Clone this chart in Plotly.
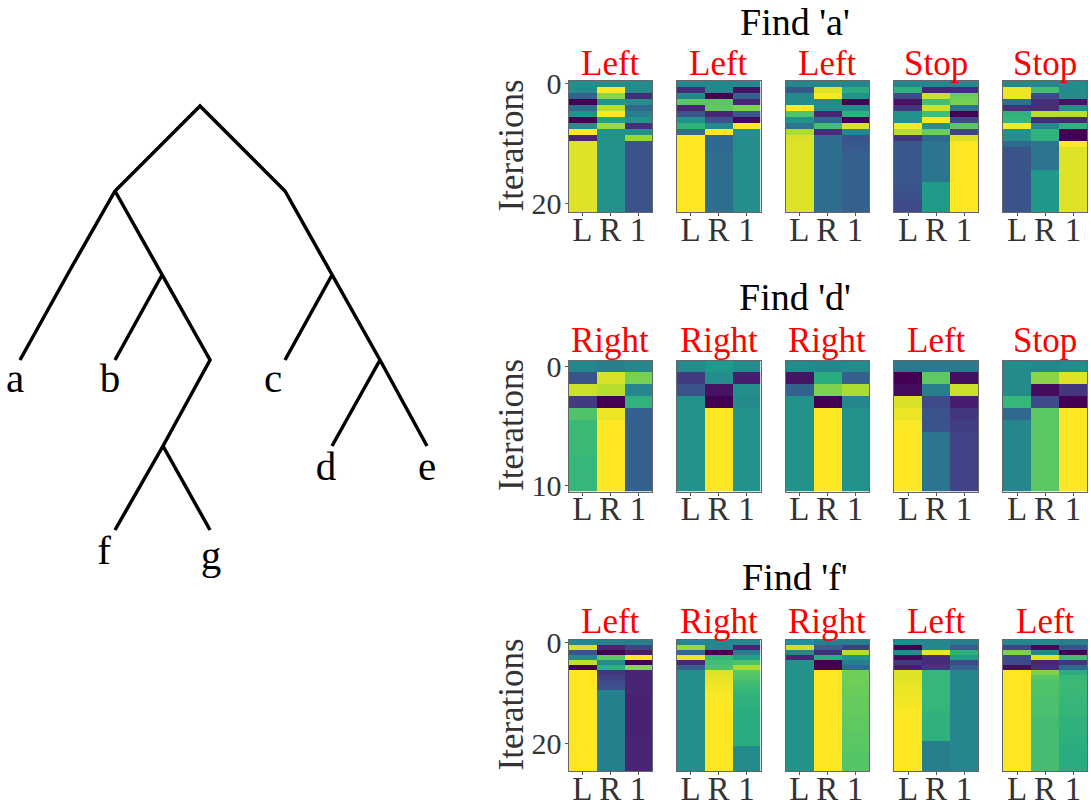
import plotly.graph_objects as go

SERIF = "Liberation Serif"
columns = ["L", "R", "1"]
queries = ["Find 'a'", "Find 'd'", "Find 'f'"]
decisions = [
    ["Left", "Left", "Left", "Stop", "Stop"],
    ["Right", "Right", "Right", "Left", "Stop"],
    ["Left", "Right", "Right", "Left", "Left"],
]
y_ticks = [[0, 20], [0, 10], [0, 20]]

# Attention per iteration; one row per iteration, columns L, R, 1
a1 = [[.48,.48,.47],[.47,.98,.47],[.30,.80,.12],[.00,.50,.48],[.35,.87,.33],[.50,.97,.42],[.00,.55,.50],[.48,.83,.13],[.97,.50,.50],[.10,.50,.82],[.93,.50,.25],[.93,.50,.25],[.93,.50,.25],[.93,.50,.25],[.93,.50,.25],[.93,.50,.25],[.93,.50,.25],[.93,.50,.25],[.93,.50,.25],[.93,.50,.25],[.93,.50,.25],[.93,.50,.25]]
a2 = [[.45,.45,.45],[.12,.45,.05],[.45,.00,.30],[.72,.72,.10],[.10,.73,.78],[.25,.10,.27],[.50,.25,.02],[.62,.47,.98],[.35,.97,.48],[.99,.33,.48],[.99,.33,.48],[.99,.33,.48],[.99,.34,.48],[.99,.34,.48],[.99,.34,.48],[.99,.34,.48],[.99,.35,.48],[.99,.35,.48],[.99,.35,.48],[.99,.35,.48],[.99,.35,.48],[.99,.35,.48]]
a3 = [[.45,.45,.45],[.27,.93,.60],[.47,.97,.50],[.47,.47,.00],[.97,.47,.48],[.70,.10,.62],[.50,.33,.00],[.38,.68,.92],[.85,.12,.45],[.92,.35,.25],[.93,.35,.27],[.93,.35,.28],[.93,.35,.29],[.93,.35,.30],[.93,.35,.30],[.93,.35,.30],[.93,.35,.30],[.93,.35,.30],[.93,.35,.30],[.93,.35,.30],[.93,.35,.30],[.93,.35,.30]]
a4 = [[.45,.45,.45],[.62,.10,.12],[.22,.90,.75],[.05,.68,.77],[.15,.90,.38],[.50,.68,.00],[.50,.97,.22],[.97,.50,.72],[.87,.75,.20],[.15,.33,.92],[.27,.38,.98],[.27,.38,.98],[.27,.38,.98],[.27,.38,.98],[.27,.38,.98],[.27,.38,.98],[.27,.38,.98],[.25,.53,.98],[.25,.53,.98],[.24,.53,.98],[.22,.53,.98],[.22,.53,.98]]
a5 = [[.45,.45,.47],[.95,.68,.47],[.95,.22,.47],[.35,.13,.05],[.13,.12,.48],[.62,.87,.87],[.65,.12,.10],[.97,.45,.62],[.50,.63,.00],[.48,.63,.00],[.33,.38,.97],[.25,.38,.93],[.25,.38,.93],[.25,.38,.93],[.25,.38,.93],[.25,.52,.93],[.25,.52,.93],[.25,.52,.93],[.25,.52,.93],[.25,.52,.93],[.25,.52,.93],[.25,.52,.93]]

d1 = [[.45,.42,.45],[.25,.92,.77],[.90,.87,.45],[.17,.00,.63],[.70,.95,.30],[.66,.99,.30],[.66,.99,.30],[.66,.99,.30],[.65,.99,.30],[.65,.99,.30],[.65,.99,.30]]
d2 = [[.47,.52,.47],[.17,.48,.08],[.25,.05,.48],[.50,.00,.47],[.50,1.0,.50],[.50,1.0,.50],[.50,1.0,.50],[.50,1.0,.50],[.50,1.0,.50],[.50,1.0,.50],[.50,1.0,.50]]
d3 = [[.47,.45,.47],[.05,.60,.30],[.30,.78,.85],[.50,.00,.45],[.50,.98,.50],[.50,.98,.50],[.50,.98,.50],[.50,.98,.50],[.50,.98,.50],[.50,.98,.50],[.50,.98,.50]]
d4 = [[.40,.40,.40],[.00,.73,.04],[.03,.42,.90],[.92,.22,.08],[.95,.25,.15],[.97,.25,.18],[.99,.38,.20],[.99,.38,.20],[.99,.38,.20],[.99,.38,.20],[.99,.38,.20]]
d5 = [[.47,.45,.47],[.47,.80,.93],[.47,.03,.15],[.65,.22,.00],[.33,.72,.98],[.45,.72,.98],[.45,.72,.98],[.45,.72,.98],[.45,.72,.98],[.45,.72,.98],[.45,.72,.98]]

f1 = [[.45,.42,.42],[.92,.10,.20],[.25,.00,.07],[.45,.72,.98],[.88,.47,.00],[.00,.62,.80],[.98,.15,.10],[.98,.20,.10],[.98,.22,.10],[.98,.25,.10],[.98,.43,.10],[.98,.43,.09],[.98,.43,.09],[.98,.43,.09],[.98,.43,.09],[.98,.43,.09],[.98,.43,.09],[.98,.43,.09],[.98,.43,.09],[.98,.43,.10],[.98,.43,.10],[.98,.43,.10],[.98,.43,.10],[.98,.43,.10],[.98,.43,.10],[.98,.43,.10]]
f2 = [[.45,.45,.45],[.82,.45,.10],[.33,.00,.42],[.95,.65,.55],[.10,.68,.70],[.30,.70,.85],[.48,.93,.72],[.48,.94,.70],[.48,.95,.68],[.48,.96,.66],[.48,.97,.64],[.48,.97,.63],[.48,.98,.62],[.48,.98,.61],[.48,.98,.60],[.48,.98,.60],[.48,.98,.60],[.48,.98,.60],[.48,.98,.60],[.48,.98,.60],[.48,.98,.60],[.48,.98,.47],[.48,.98,.47],[.48,.98,.47],[.48,.98,.47],[.48,.98,.47]]
f3 = [[.50,.42,.42],[.90,.30,.18],[.45,.12,.87],[.10,.60,.50],[.50,.00,.42],[.50,.00,.33],[.50,.98,.76],[.50,.98,.76],[.50,.98,.76],[.50,.98,.75],[.50,.98,.75],[.50,.98,.74],[.50,.98,.74],[.50,.98,.74],[.50,.98,.74],[.50,.98,.73],[.50,.98,.73],[.50,.98,.73],[.50,.98,.72],[.50,.98,.72],[.50,.98,.72],[.50,.98,.72],[.50,.98,.71],[.50,.98,.71],[.50,.98,.71],[.50,.98,.71]]
f4 = [[.47,.45,.42],[.00,.45,.28],[.48,.95,.62],[.02,.12,.55],[.17,.12,.22],[.08,.15,.30],[.93,.65,.45],[.93,.65,.45],[.94,.65,.45],[.95,.65,.45],[.95,.65,.45],[.96,.65,.45],[.96,.65,.45],[.97,.64,.45],[.97,.63,.45],[.98,.62,.45],[.98,.62,.45],[.98,.62,.45],[.98,.62,.45],[.98,.62,.45],[.99,.42,.45],[.99,.42,.45],[.99,.42,.45],[.99,.42,.45],[.99,.42,.45],[.99,.42,.45]]
f5 = [[.45,.45,.42],[.20,.02,.25],[.78,.45,.00],[.22,.93,.68],[.22,.10,.15],[.03,.12,.33],[.98,.78,.60],[.98,.72,.65],[.98,.70,.66],[.98,.70,.66],[.98,.70,.66],[.98,.69,.65],[.98,.69,.65],[.98,.69,.64],[.98,.69,.64],[.98,.68,.63],[.98,.68,.63],[.98,.68,.62],[.98,.68,.62],[.98,.68,.61],[.98,.68,.61],[.98,.68,.60],[.98,.68,.60],[.98,.68,.60],[.98,.68,.60],[.98,.68,.60]]

panels = [[a1, a2, a3, a4, a5], [d1, d2, d3, d4, d5], [f1, f2, f3, f4, f5]]

# Tree drawn in the figure's pixel frame
tree_x = [20, 70, 115, 200, 285, 332, 380, 427, None, 115, 162, 210, 163, 115, None, 162, 115, None, 163, 210, None, 332, 285, None, 380, 332]
tree_y = [360, 270, 191, 106, 191, 275, 360, 446, None, 191, 275, 360, 446, 530, None, 275, 360, None, 446, 530, None, 275, 360, None, 360, 446]
leaf_names = ["a", "b", "c", "d", "e", "f", "g"]
leaf_x = [15, 110, 273, 326, 427, 104, 211]
leaf_y = [382, 382, 382, 470, 470, 554, 559]

W, H = 1091, 810
col_edges = [(568.5, 652), (676.5, 760.5), (785.5, 869), (894, 978), (1003, 1087)]
row_edges = [(81, 212), (360.5, 491.5), (640, 771)]
title_y = [21.8, 297, 577]
caption_y = [63.5, 341, 621]
title_x = 795

fig = go.Figure()
fig.add_trace(go.Scatter(x=tree_x, y=tree_y, mode="lines", line=dict(color="black", width=3.5), xaxis="x", yaxis="y", hoverinfo="skip", connectgaps=False))
fig.add_trace(go.Scatter(x=leaf_x, y=leaf_y, mode="text", text=leaf_names, textposition="middle center", textfont=dict(family=SERIF, size=41, color="black"), xaxis="x", yaxis="y", hoverinfo="skip"))

layout = dict(
    width=W, height=H, margin=dict(l=0, r=0, t=0, b=0, autoexpand=False),
    paper_bgcolor="white", plot_bgcolor="rgba(0,0,0,0)", showlegend=False,
    xaxis=dict(domain=[0, 1], range=[0, W], visible=False, fixedrange=True, automargin=False),
    yaxis=dict(domain=[0, 1], range=[H, 0], visible=False, fixedrange=True, automargin=False),
)
annotations = []
n = 2
for r, row in enumerate(panels):
    y0, y1 = row_edges[r]
    annotations.append(dict(text=queries[r], x=title_x / W, y=1 - title_y[r] / H, xref="paper", yref="paper", showarrow=False, xanchor="center", yanchor="middle", font=dict(family=SERIF, size=38, color="black")))
    for c, values in enumerate(row):
        x0, x1 = col_edges[c]
        nrows = len(values)
        fig.add_trace(go.Heatmap(z=values, x=[0, 1, 2], y=list(range(nrows)), colorscale="Viridis", zmin=0, zmax=0.975, showscale=False, xaxis=f"x{n}", yaxis=f"y{n}", hoverinfo="skip"))
        layout[f"xaxis{n}"] = dict(
            domain=[x0 / W, x1 / W], range=[-0.5, 2.5], anchor=f"y{n}", tickmode="array", tickvals=[0, 1, 2], ticktext=columns,
            ticks="outside", ticklen=3, tickcolor="#555555", tickfont=dict(family=SERIF, size=33, color="#333333"), ticklabelstandoff=-15, automargin=False,
            showline=True, mirror=True, linecolor="#666666", linewidth=1, showgrid=False, zeroline=False, fixedrange=True)
        layout[f"yaxis{n}"] = dict(
            domain=[1 - y1 / H, 1 - y0 / H], range=[nrows - 0.5, -0.5], anchor=f"x{n}", tickmode="array",
            tickvals=y_ticks[r] if c == 0 else [], ticks="outside" if c == 0 else "", ticklen=3, tickcolor="#555555", automargin=False, ticklabelstandoff=-3,
            tickfont=dict(family=SERIF, size=30, color="#333333"), showline=True, mirror=True, linecolor="#666666", linewidth=1,
            showgrid=False, zeroline=False, fixedrange=True)
        annotations.append(dict(text=decisions[r][c], x=(x0 + x1) / 2 / W, y=1 - caption_y[r] / H, xref="paper", yref="paper", showarrow=False, xanchor="center", yanchor="middle", font=dict(family=SERIF, size=35, color="red")))
        n += 1
    annotations.append(dict(text="Iterations", x=511 / W, y=1 - (y0 + y1 - 2) / 2 / H, xref="paper", yref="paper", showarrow=False, textangle=-90, xanchor="center", yanchor="middle", font=dict(family=SERIF, size=35, color="#333333")))
layout["annotations"] = annotations
fig.update_layout(**layout)
fig.write_html("out.html", config=dict(displayModeBar=False), post_script="document.body.style.margin='0';document.body.style.overflow='hidden';")
